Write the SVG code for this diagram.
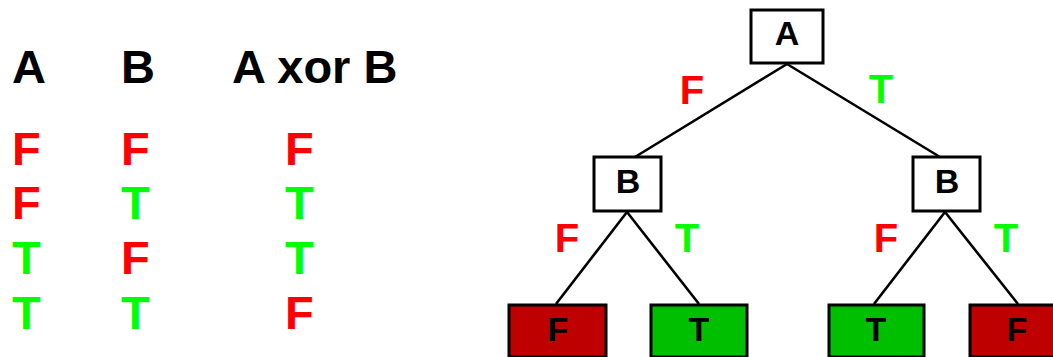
<svg xmlns="http://www.w3.org/2000/svg" width="1053" height="357" viewBox="0 0 1053 357">
<style>
text{font-family:"Liberation Sans",Arial,sans-serif;font-weight:bold}
.h{font-size:47px;fill:#000}
.t{font-size:47px}
.r{fill:#ff0000}
.g{fill:#00ff00}
.e{font-size:40px;text-anchor:middle}
.box{fill:#fff;stroke:#000;stroke-width:3}
.lf{fill:#bf0000;stroke:#000;stroke-width:3}
.lt{fill:#00bf00;stroke:#000;stroke-width:3}
.nl{font-size:34px;text-anchor:middle;fill:#000}
.c line{stroke:#000;stroke-width:2.6}
</style>
<g id="table">
<text class="h" x="12" y="83">A</text>
<text class="h" x="121" y="83">B</text>
<text class="h" x="232" y="83">A xor B</text>
<text class="t r" x="12" y="165">F</text>
<text class="t r" x="121" y="165">F</text>
<text class="t r" x="285" y="165">F</text>
<text class="t r" x="12" y="219">F</text>
<text class="t g" x="121" y="219">T</text>
<text class="t g" x="285" y="219">T</text>
<text class="t g" x="12" y="274">T</text>
<text class="t r" x="121" y="274">F</text>
<text class="t g" x="285" y="274">T</text>
<text class="t g" x="12" y="329">T</text>
<text class="t g" x="121" y="329">T</text>
<text class="t r" x="285" y="329">F</text>
</g>
<g class="c" id="connectors">
<line x1="787" y1="64" x2="635" y2="157"/>
<line x1="787" y1="64" x2="940" y2="157"/>
<line x1="627" y1="212" x2="556" y2="304"/>
<line x1="627" y1="212" x2="699" y2="304"/>
<line x1="945" y1="212" x2="874" y2="304"/>
<line x1="945" y1="212" x2="1018" y2="304"/>
<text class="e r" x="692" y="104">F</text>
<text class="e g" x="881" y="103">T</text>
<text class="e r" x="567" y="252">F</text>
<text class="e g" x="687" y="252">T</text>
<text class="e r" x="886" y="252">F</text>
<text class="e g" x="1006" y="252">T</text>
</g>
<g id="nodeA">
<rect class="box" x="751" y="10" width="72" height="53"/>
<text class="nl" x="787" y="45">A</text>
</g>
<g id="nodeB1">
<rect class="box" x="594" y="157" width="67" height="54"/>
<text class="nl" x="628" y="193">B</text>
</g>
<g id="nodeB2">
<rect class="box" x="913" y="157" width="67" height="54"/>
<text class="nl" x="947" y="193">B</text>
</g>
<g id="leaf1">
<rect class="lf" x="509" y="305" width="97" height="52"/>
<text class="nl" x="558" y="341">F</text>
</g>
<g id="leaf2">
<rect class="lt" x="651" y="305" width="96" height="52"/>
<text class="nl" x="699" y="341">T</text>
</g>
<g id="leaf3">
<rect class="lt" x="829" y="305" width="95" height="52"/>
<text class="nl" x="876" y="341">T</text>
</g>
<g id="leaf4">
<rect class="lf" x="970" y="305" width="95" height="52"/>
<text class="nl" x="1017" y="341">F</text>
</g>
</svg>
